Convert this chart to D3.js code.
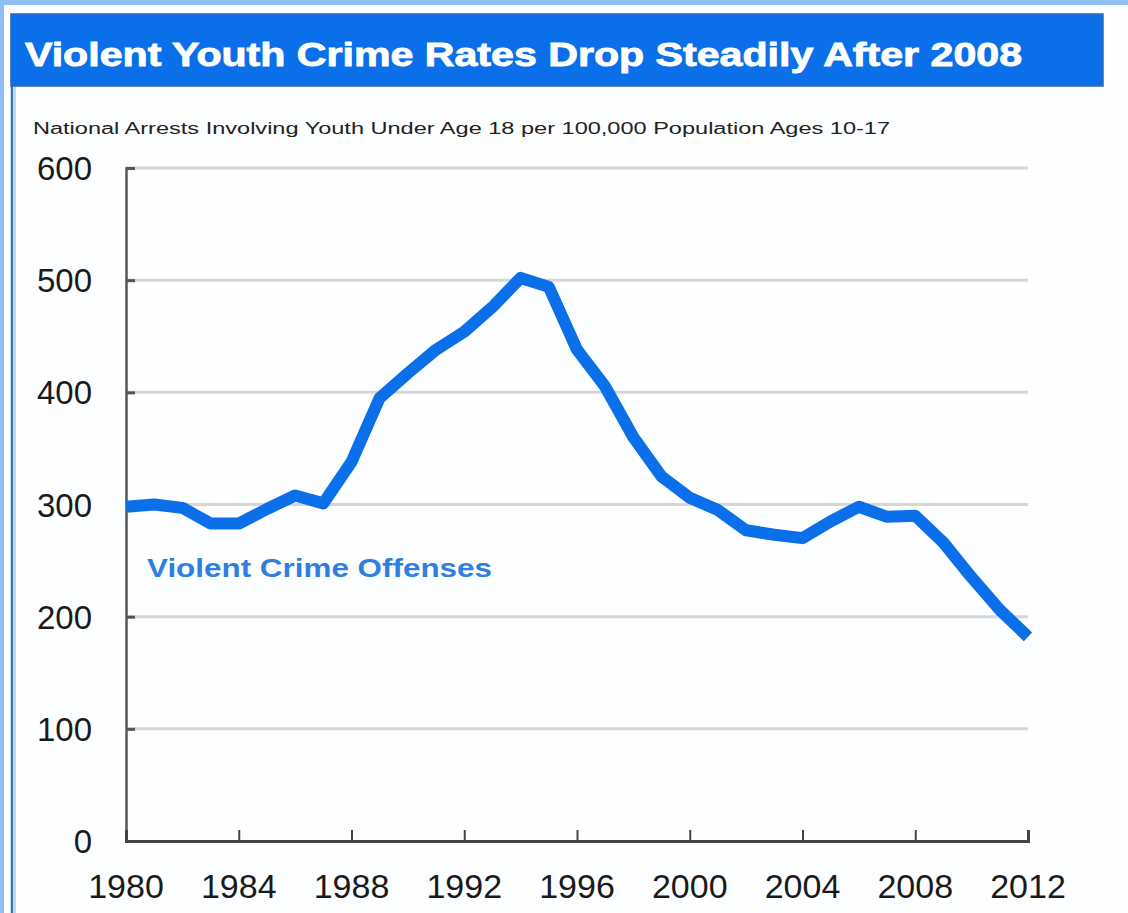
<!DOCTYPE html>
<html>
<head>
<meta charset="utf-8">
<script src="https://cdn.jsdelivr.net/npm/d3@7"></script>
<style>
  body { margin: 0; background: #fff; }
  text { font-family: "Liberation Sans", Arial, sans-serif; }
</style>
</head>
<body>
<svg id="chart" width="1128" height="913"></svg>
<script>
// Data
const years = [1980, 1981, 1982, 1983, 1984, 1985, 1986, 1987, 1988, 1989,
  1990, 1991, 1992, 1993, 1994, 1995, 1996, 1997, 1998, 1999,
  2000, 2001, 2002, 2003, 2004, 2005, 2006, 2007, 2008, 2009,
  2010, 2011, 2012];
const rates = [298, 300, 297, 283, 283, 296, 308, 301, 338, 395,
  417, 438, 454, 476, 502, 494, 438, 405, 360, 325,
  306, 295, 277, 273, 270, 285, 298, 289, 290, 266,
  235, 206, 182];
const yTicks = [0, 100, 200, 300, 400, 500, 600];
const xTicks = [1980, 1984, 1988, 1992, 1996, 2000, 2004, 2008, 2012];

const titleText = 'Violent Youth Crime Rates Drop Steadily After 2008';
const subtitleText = 'National Arrests Involving Youth Under Age 18 per 100,000 Population Ages 10-17';
const seriesLabel = 'Violent Crime Offenses';

const svg = d3.select('#chart');

// page frame
svg.append('rect').attr('width', 1128).attr('height', 913).attr('fill', '#8fbef3');
svg.append('rect').attr('x', 4).attr('y', 5).attr('width', 1124).attr('height', 908).attr('fill', '#fdfeff');
svg.append('line')
  .attr('x1', 12).attr('x2', 12).attr('y1', 14).attr('y2', 913)
  .attr('stroke', '#3c6fb0').attr('stroke-width', 2.5);
svg.append('line')
  .attr('x1', 15).attr('x2', 15).attr('y1', 86).attr('y2', 913)
  .attr('stroke', '#bcd6f5').attr('stroke-width', 2);

// title bar
svg.append('rect')
  .attr('x', 11).attr('y', 14).attr('width', 1092).attr('height', 72)
  .attr('fill', '#0a6fe8').attr('stroke', '#2f68b5').attr('stroke-width', 1.5);
svg.append('text')
  .attr('x', 25).attr('y', 66)
  .attr('fill', '#fff')
  .attr('stroke', '#fff')
  .attr('stroke-width', 0.9)
  .attr('font-family', '"DejaVu Sans", sans-serif')
  .attr('font-weight', 'bold')
  .attr('font-size', 34)
  .attr('textLength', 997)
  .attr('lengthAdjust', 'spacingAndGlyphs')
  .text(titleText);

svg.append('text')
  .attr('x', 33).attr('y', 134)
  .attr('fill', '#222')
  .attr('font-size', 16)
  .attr('textLength', 857)
  .attr('lengthAdjust', 'spacingAndGlyphs')
  .text(subtitleText);

const x = d3.scaleLinear().domain([1980, 2012]).range([126, 1028]);
const y = d3.scaleLinear().domain([0, 600]).range([841, 168]);

// gridlines
svg.append('g')
  .selectAll('line')
  .data(yTicks.filter(d => d > 0))
  .join('line')
  .attr('x1', x(1980)).attr('x2', x(2012))
  .attr('y1', d => y(d)).attr('y2', d => y(d))
  .attr('stroke', '#d6d6d6').attr('stroke-width', 3);

// y axis
const yAxis = svg.append('g')
  .attr('transform', `translate(${x(1980)},0)`)
  .call(d3.axisRight(y).tickValues(yTicks).tickSize(9).tickFormat(''));
yAxis.select('.domain').attr('stroke', '#555').attr('stroke-width', 2.5);
yAxis.selectAll('.tick line').attr('stroke', '#555').attr('stroke-width', 3);

svg.append('g')
  .selectAll('text')
  .data(yTicks)
  .join('text')
  .attr('x', 92)
  .attr('y', d => y(d) + 12)
  .attr('text-anchor', 'end')
  .attr('font-size', 33)
  .attr('fill', '#1a1a1a')
  .text(d => d);

// x axis
const xAxis = svg.append('g')
  .attr('transform', `translate(0,${y(0)})`)
  .call(d3.axisTop(x).tickValues(xTicks).tickSize(11).tickFormat(''));
xAxis.select('.domain').attr('stroke', '#444').attr('stroke-width', 3);
xAxis.selectAll('.tick line').attr('stroke', '#444').attr('stroke-width', 2);

svg.append('g')
  .selectAll('text')
  .data(xTicks)
  .join('text')
  .attr('x', d => x(d))
  .attr('y', 898)
  .attr('text-anchor', 'middle')
  .attr('font-size', 34)
  .attr('fill', '#1a1a1a')
  .text(d => d);

// the series line
const line = d3.line()
  .x((d, i) => x(years[i]))
  .y(d => y(d));

svg.append('path')
  .datum(rates)
  .attr('d', line)
  .attr('fill', 'none')
  .attr('stroke', '#0a6fe8')
  .attr('stroke-width', 12)
  .attr('stroke-linejoin', 'round');

svg.append('text')
  .attr('x', 147).attr('y', 577)
  .attr('fill', '#2f7ee2')
  .attr('font-weight', 'bold')
  .attr('font-size', 26)
  .attr('textLength', 345)
  .attr('lengthAdjust', 'spacingAndGlyphs')
  .text(seriesLabel);
</script>
</body>
</html>
